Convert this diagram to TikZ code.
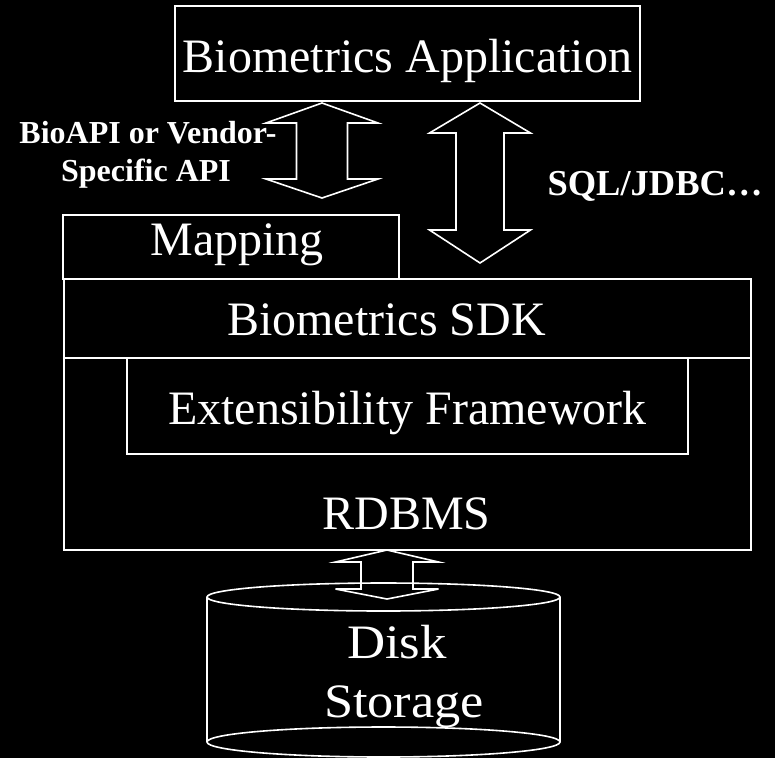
\documentclass[tikz,border=0pt]{standalone}
\usepackage{graphicx}
\usepackage{fontspec}
\setmainfont{Liberation Serif}
\begin{document}
\begin{tikzpicture}[x=1pt,y=-1pt,
  line/.style={draw=white,line width=1.6pt},
  box/.style={line,fill=black,inner sep=0pt,outer sep=0pt},
  big/.style={text=white,font=\fontsize{48}{54}\selectfont,anchor=base,inner sep=0pt},
  lbl/.style={text=white,font=\bfseries\fontsize{32}{38}\selectfont,inner sep=0pt,align=center},
  dbl/.style={line,line join=miter}]
\fill[black] (0,0) rectangle (775,758);
\useasboundingbox (0,0) rectangle (775,758);
% boxes
\node[box,minimum width=465pt,minimum height=95pt] (app) at (407.5,53.5) {};
\node[box,minimum width=336pt,minimum height=64pt] (map) at (231,247) {};
\node[box,minimum width=687pt,minimum height=271pt] (rdb) at (407.5,414.5) {};
\node[box,minimum width=687pt,minimum height=79pt] (sdk) at (407.5,318.5) {};
\node[box,minimum width=561pt,minimum height=96pt] (ext) at (407.5,406) {};
% texts
\node[big] (tapp) at (407.5,72) {Biometrics Application};
\node[big] (tmap) at (237,255) {Mapping};
\node[big] (tsdk) at (386.5,335) {Biometrics SDK};
\node[big] (text) at (407.5,424) {Extensibility Framework};
\node[big] (trdb) at (406.5,529) {RDBMS};
\node[lbl,anchor=base] (l1) at (148,143) {BioAPI or Vendor-};
\node[lbl,anchor=base] (l2) at (146,181) {Specific API};
\node[lbl,anchor=base,font=\bfseries\fontsize{36.5}{40}\selectfont] (sql) at (655,195) {SQL/JDBC…};
% left double arrow
\coordinate (a1t) at (322,103);
\coordinate (a1b) at (322,198);
\draw[dbl] (a1t) -- ++(56,20) -- ++(-30.5,0) -- ++(0,56) -- ++(30.5,0) -- (a1b)
  -- ++(-56,-19) -- ++(30.5,0) -- ++(0,-56) -- ++(-30.5,0) -- cycle;
% right double arrow
\coordinate (a2t) at (480,103);
\coordinate (a2b) at (480,263);
\draw[dbl] (a2t) -- ++(50.5,30) -- ++(-26.5,0) -- ++(0,97) -- ++(26.5,0) -- (a2b)
  -- ++(-50.5,-33) -- ++(26.5,0) -- ++(0,-97) -- ++(-26.5,0) -- cycle;
% cylinder
\coordinate (cyl) at (383.5,597);
\fill[black] (207,597) rectangle (560,742);
\draw[line] (207,597) -- (207,742);
\draw[line] (560,597) -- (560,742);
\draw[line,fill=black] (383.5,742) ellipse [x radius=176.5, y radius=15];
\draw[line] (cyl) ellipse [x radius=176.5, y radius=14];
\node[big] (tdisk) at (397,658) {\scalebox{1.1}[1]{Disk}};
\node[big] (tsto) at (404,717) {\scalebox{1.09}[1]{Storage}};
% small double arrow
\coordinate (a3t) at (387,550);
\coordinate (a3b) at (387,599);
\draw[dbl] (a3t) -- ++(51.5,12) -- ++(-25.5,0) -- ++(0,27) -- ++(25.5,0) -- (a3b)
  -- ++(-51.5,-10) -- ++(25.5,0) -- ++(0,-27) -- ++(-25.5,0) -- cycle;
\end{tikzpicture}
\end{document}
